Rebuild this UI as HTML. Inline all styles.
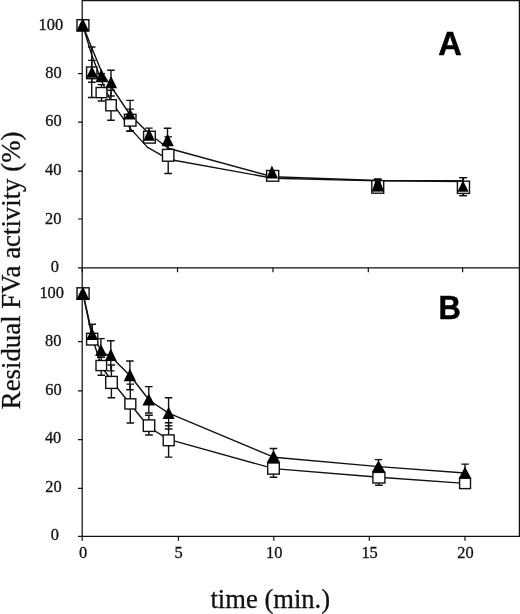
<!DOCTYPE html>
<html lang="en"><head><meta charset="utf-8"><title>Residual FVa activity</title>
<style>html,body{margin:0;padding:0;background:#fff}svg{display:block}</style></head>
<body>
<svg width="520" height="614" viewBox="0 0 520 614">
<rect width="520" height="614" fill="#fff"/>
<path d="M82.2 0.5H519.4V536.3H82.2Z M82.2 267.85H519.4" fill="none" stroke="#111" stroke-width="1.25"/>
<path d="M78.0 25.0H82.2M78.0 73.6H82.2M78.0 122.2H82.2M78.0 171.1H82.2M78.0 219.0H82.2M78.0 267.85H82.2M78.0 293.3H82.2M78.0 341.7H82.2M78.0 390.8H82.2M78.0 439.6H82.2M78.0 488.3H82.2M78.0 536.3H82.2M82.2 267.85v4.5M82.2 536.3v4.5M177.5 267.85v4.5M178.4 536.3v4.5M273.0 267.85v4.5M273.8 536.3v4.5M368.3 267.85v4.5M369.3 536.3v4.5M462.6 267.85v4.5M465.0 536.3v4.5" fill="none" stroke="#111" stroke-width="1.2"/>
<polyline points="82.7,25.0 91.9,55.5 101.4,80.5 111.0,101.2 130.2,128.4 147.6,147.4 168.3,159.2 272.8,178.2 377.8,180.9 463.4,181.5" fill="none" stroke="#111" stroke-width="1.4" stroke-linejoin="round"/>
<polyline points="82.7,25.0 91.9,48.2 101.4,71.2 111.0,86.5 130.3,115.0 149.3,134.0 168.3,148.3 272.8,176.8 377.8,180.5 463.4,180.6" fill="none" stroke="#111" stroke-width="1.4" stroke-linejoin="round"/>
<path d="M91.7 47.0V97.5M87.9 47.0H95.5M87.9 97.5H95.5" fill="none" stroke="#111" stroke-width="1.4"/>
<path d="M101.5 84.6V101.0M97.7 84.6H105.2M97.7 101.0H105.2" fill="none" stroke="#111" stroke-width="1.4"/>
<path d="M111.0 90.2V120.2M107.2 90.2H114.8M107.2 120.2H114.8" fill="none" stroke="#111" stroke-width="1.4"/>
<path d="M130.2 109.1V131.2M126.4 109.1H134.0M126.4 131.2H134.0" fill="none" stroke="#111" stroke-width="1.4"/>
<path d="M168.2 136.9V173.5M164.3 136.9H172.0M164.3 173.5H172.0" fill="none" stroke="#111" stroke-width="1.4"/>
<path d="M463.4 177.6V195.6M459.6 177.6H467.2M459.6 195.6H467.2" fill="none" stroke="#111" stroke-width="1.4"/>
<path d="M91.9 60.4V82.2M88.1 60.4H95.7M88.1 82.2H95.7" fill="none" stroke="#111" stroke-width="1.4"/>
<path d="M101.3 73.6V80.4M97.5 73.6H105.1M97.5 80.4H105.1" fill="none" stroke="#111" stroke-width="1.4"/>
<path d="M111.0 70.3V96.0M107.2 70.3H114.8M107.2 96.0H114.8" fill="none" stroke="#111" stroke-width="1.4"/>
<path d="M130.1 100.4V131.0M126.3 100.4H133.9M126.3 131.0H133.9" fill="none" stroke="#111" stroke-width="1.4"/>
<path d="M148.9 128.1V142.0M145.1 128.1H152.7M145.1 142.0H152.7" fill="none" stroke="#111" stroke-width="1.4"/>
<path d="M167.5 128.3V154.0M163.7 128.3H171.3M163.7 154.0H171.3" fill="none" stroke="#111" stroke-width="1.4"/>
<path d="M378.0 179.1V190.0M374.2 179.1H381.8M374.2 190.0H381.8" fill="none" stroke="#111" stroke-width="1.4"/>
<path d="M462.9 177.6V195.6M459.1 177.6H466.7M459.1 195.6H466.7" fill="none" stroke="#111" stroke-width="1.4"/>
<rect x="77.00" y="19.70" width="11.90" height="11.20" fill="#fff" stroke="#111" stroke-width="1.4"/>
<rect x="86.60" y="67.00" width="10.30" height="11.70" fill="#fff" stroke="#111" stroke-width="1.4"/>
<rect x="96.10" y="87.50" width="10.80" height="10.20" fill="#fff" stroke="#111" stroke-width="1.4"/>
<rect x="105.80" y="99.70" width="10.50" height="11.10" fill="#fff" stroke="#111" stroke-width="1.4"/>
<rect x="124.40" y="114.30" width="11.60" height="11.80" fill="#fff" stroke="#111" stroke-width="1.4"/>
<rect x="143.60" y="131.20" width="11.70" height="11.90" fill="#fff" stroke="#111" stroke-width="1.4"/>
<rect x="162.50" y="149.40" width="11.40" height="11.80" fill="#fff" stroke="#111" stroke-width="1.4"/>
<rect x="266.60" y="170.50" width="12.10" height="10.70" fill="#fff" stroke="#111" stroke-width="1.4"/>
<rect x="371.80" y="180.60" width="11.90" height="12.60" fill="#fff" stroke="#111" stroke-width="1.4"/>
<rect x="457.40" y="181.20" width="12.10" height="12.20" fill="#fff" stroke="#111" stroke-width="1.4"/>
<path d="M82.7 18.1L89.2 31.5H76.2Z" fill="#000"/>
<path d="M91.9 66.2L97.9 77.7H86.1Z" fill="#000"/>
<path d="M101.3 68.7L107.4 82.3H95.6Z" fill="#000"/>
<path d="M111.0 76.1L117.1 88.3H105.2Z" fill="#000"/>
<path d="M130.1 108.5L135.8 119.5H123.8Z" fill="#000"/>
<path d="M148.9 128.2L155.0 140.8H143.4Z" fill="#000"/>
<path d="M167.5 133.5L173.8 146.2H161.5Z" fill="#000"/>
<path d="M271.9 165.4L278.1 178.6H266.2Z" fill="#000"/>
<path d="M378.0 179.1L384.2 191.5H371.6Z" fill="#000"/>
<path d="M462.9 180.3L468.6 191.8H457.5Z" fill="#000"/>
<polyline points="83.0,293.5 92.2,337.5 101.5,366.5 111.3,380.5 130.4,404.3 149.3,427.5 168.6,439.4 273.8,468.6 379.0,477.3 465.0,483.4" fill="none" stroke="#111" stroke-width="1.4" stroke-linejoin="round"/>
<polyline points="83.0,293.5 92.2,334.5 101.5,351.5 111.3,357.0 130.4,376.0 149.5,400.5 168.6,413.2 273.8,457.2 379.0,466.6 465.0,473.0" fill="none" stroke="#111" stroke-width="1.4" stroke-linejoin="round"/>
<path d="M92.2 324.4V339.0M88.4 324.4H96.0M88.4 339.0H96.0" fill="none" stroke="#111" stroke-width="1.4"/>
<path d="M101.2 357.2V375.3M97.5 357.2H105.0M97.5 375.3H105.0" fill="none" stroke="#111" stroke-width="1.4"/>
<path d="M111.4 365.0V397.8M107.6 365.0H115.2M107.6 397.8H115.2" fill="none" stroke="#111" stroke-width="1.4"/>
<path d="M130.3 384.1V423.0M126.5 384.1H134.1M126.5 423.0H134.1" fill="none" stroke="#111" stroke-width="1.4"/>
<path d="M148.9 415.3V435.0M145.1 415.3H152.8M145.1 435.0H152.8" fill="none" stroke="#111" stroke-width="1.4"/>
<path d="M168.6 422.8V457.1M164.8 422.8H172.4M164.8 457.1H172.4" fill="none" stroke="#111" stroke-width="1.4"/>
<path d="M273.5 463.0V477.3M269.7 463.0H277.3M269.7 477.3H277.3" fill="none" stroke="#111" stroke-width="1.4"/>
<path d="M378.9 473.0V485.2M375.1 473.0H382.7M375.1 485.2H382.7" fill="none" stroke="#111" stroke-width="1.4"/>
<path d="M92.1 324.4V339.0M88.3 324.4H95.9M88.3 339.0H95.9" fill="none" stroke="#111" stroke-width="1.4"/>
<path d="M100.9 338.6V357.2M97.1 338.6H104.7M97.1 357.2H104.7" fill="none" stroke="#111" stroke-width="1.4"/>
<path d="M110.8 340.8V370.9M107.0 340.8H114.6M107.0 370.9H114.6" fill="none" stroke="#111" stroke-width="1.4"/>
<path d="M129.9 361.0V389.7M126.1 361.0H133.7M126.1 389.7H133.7" fill="none" stroke="#111" stroke-width="1.4"/>
<path d="M148.8 386.6V413.0M145.0 386.6H152.6M145.0 413.0H152.6" fill="none" stroke="#111" stroke-width="1.4"/>
<path d="M168.6 397.7V429.0M164.8 397.7H172.4M164.8 429.0H172.4" fill="none" stroke="#111" stroke-width="1.4"/>
<path d="M273.5 448.5V462.0M269.7 448.5H277.3M269.7 462.0H277.3" fill="none" stroke="#111" stroke-width="1.4"/>
<path d="M378.5 459.6V471.0M374.7 459.6H382.3M374.7 471.0H382.3" fill="none" stroke="#111" stroke-width="1.4"/>
<path d="M465.0 464.1V478.0M461.2 464.1H468.8M461.2 478.0H468.8" fill="none" stroke="#111" stroke-width="1.4"/>
<rect x="77.00" y="287.80" width="12.10" height="11.50" fill="#fff" stroke="#111" stroke-width="1.4"/>
<rect x="86.60" y="333.30" width="11.20" height="11.70" fill="#fff" stroke="#111" stroke-width="1.4"/>
<rect x="96.00" y="360.50" width="10.60" height="10.10" fill="#fff" stroke="#111" stroke-width="1.4"/>
<rect x="105.70" y="376.40" width="11.60" height="12.00" fill="#fff" stroke="#111" stroke-width="1.4"/>
<rect x="124.90" y="398.80" width="10.90" height="10.20" fill="#fff" stroke="#111" stroke-width="1.4"/>
<rect x="143.30" y="419.90" width="11.40" height="11.50" fill="#fff" stroke="#111" stroke-width="1.4"/>
<rect x="163.20" y="434.90" width="11.00" height="10.80" fill="#fff" stroke="#111" stroke-width="1.4"/>
<rect x="267.70" y="463.00" width="11.60" height="11.10" fill="#fff" stroke="#111" stroke-width="1.4"/>
<rect x="372.90" y="472.40" width="12.00" height="10.60" fill="#fff" stroke="#111" stroke-width="1.4"/>
<rect x="459.60" y="478.20" width="10.90" height="10.40" fill="#fff" stroke="#111" stroke-width="1.4"/>
<path d="M82.8 286.3L89.4 299.9H76.2Z" fill="#000"/>
<path d="M92.1 327.9L98.1 339.9H86.1Z" fill="#000"/>
<path d="M100.9 343.9L107.0 356.1H95.1Z" fill="#000"/>
<path d="M110.8 348.5L116.8 360.9H104.8Z" fill="#000"/>
<path d="M129.9 368.5L136.1 381.2H123.7Z" fill="#000"/>
<path d="M148.8 393.5L155.1 405.6H142.4Z" fill="#000"/>
<path d="M168.6 406.7L174.7 419.0H162.5Z" fill="#000"/>
<path d="M273.5 450.2L280.2 462.7H266.7Z" fill="#000"/>
<path d="M378.5 460.2L385.2 472.1H371.9Z" fill="#000"/>
<path d="M465.0 466.7L471.4 478.6H458.6Z" fill="#000"/>
<path d="M373.8 178.5H381V180.8H380.2L383.7 191.2H372.1L375.4 180.8H373.8Z" fill="#000"/>
<path d="M164.9 425.8H172.5" stroke="#111" stroke-width="1.4"/>
<path d="M373.8 180.4H381.4" stroke="#111" stroke-width="1.4"/>
<g font-family="'Liberation Serif', serif" font-size="16.4" fill="#111" stroke="#111" stroke-width="0.3" text-anchor="middle">
<text x="50.8" y="29.6">100</text>
<text x="53.5" y="77.5">80</text>
<text x="53.5" y="126.1">60</text>
<text x="53.3" y="175.0">40</text>
<text x="53.3" y="224.0">20</text>
<text x="54.9" y="272.4">0</text>
<text x="51.7" y="298.4">100</text>
<text x="53.2" y="345.9">80</text>
<text x="53.4" y="394.7">60</text>
<text x="53.1" y="443.2">40</text>
<text x="53.4" y="492.2">20</text>
<text x="54.8" y="539.7">0</text>
<text x="83.0" y="557.8">0</text>
<text x="178.5" y="557.8">5</text>
<text x="274.2" y="557.8">10</text>
<text x="369.6" y="557.8">15</text>
<text x="465.5" y="557.8">20</text>
</g>
<text x="270.3" y="607.7" text-anchor="middle" font-family="'Liberation Serif', serif" font-size="26.6" fill="#111" stroke="#111" stroke-width="0.3">time (min.)</text>
<text transform="translate(20.4 270.4) rotate(-90)" text-anchor="middle" font-family="'Liberation Serif', serif" font-size="26.8" fill="#111" stroke="#111" stroke-width="0.3">Residual FVa activity (%)</text>
<g font-family="'Liberation Sans', sans-serif" font-weight="bold" font-size="32.6" fill="#000" stroke="#000" stroke-width="0.5">
<text x="450.1" y="54.8" text-anchor="middle">A</text>
<text transform="translate(438.4 319) scale(0.95 1)">B</text>
</g>
</svg>
</body></html>
